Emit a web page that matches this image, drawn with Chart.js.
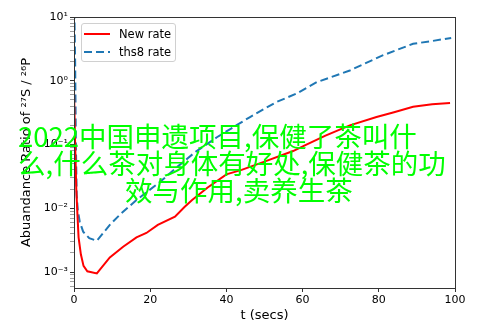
<!DOCTYPE html>
<html>
<head>
<meta charset="utf-8">
<script src="https://cdn.jsdelivr.net/npm/chart.js@4/dist/chart.umd.min.js"></script>
<style>
  html, body { margin: 0; padding: 0; background: #fff; }
  #wrap { position: relative; width: 493px; height: 329px; overflow: hidden; }
  #legend { position: absolute; left: 81px; top: 23px; width: 93px; height: 37px;
    border: 1px solid #d0d0d0; border-radius: 3px; background: rgba(255,255,255,0.85);
    font-family: "DejaVu Sans", sans-serif; font-size: 11.5px; color: #000; }
  .row { position: absolute; left: 0; height: 16px; display: flex; align-items: center; }
  .row svg { margin-left: 2px; }
  .row span { margin-left: 9px; }
  #mark { position: absolute; left: 18px; top: 122px; font-family: "Noto Sans CJK SC", sans-serif;
    font-size: 27.5px; line-height: 27px; color: #00ff00; white-space: nowrap; }
</style>
</head>
<body>
<div id="wrap">
  <canvas id="c" width="493" height="329"></canvas>
  <div id="legend"></div>
  <div id="mark">
    <div>2022中国申遗项目,保健了茶叫什</div>
    <div>么,什么茶对身体有好处,保健茶的功</div>
    <div style="padding-left:107px">效与作用,卖养生茶</div>
  </div>
</div>
<script>
// ---- data ----
const seriesNames = ["New rate", "ths8 rate"];
const newRateT = [0, 0.3, 0.6, 0.9, 1.2, 1.8, 2.5, 3.5, 6, 9.4, 12.9, 16.4, 19, 22, 26.5, 29, 31, 35, 40, 44, 50, 57.5, 61, 66, 72.4, 79.4, 84, 89, 94, 98.7];
const newRateY = [0.7, 0.1, 0.02, 0.008, 0.0035, 0.0019, 0.00125, 0.00103, 0.00095, 0.0017, 0.0025, 0.0035, 0.0041, 0.0055, 0.0074, 0.0105, 0.0135, 0.021, 0.034, 0.040, 0.054, 0.079, 0.10, 0.138, 0.2, 0.27, 0.32, 0.39, 0.43, 0.45];
const ths8T = [0, 0.3, 0.5, 0.7, 1, 1.5, 2.4, 4, 6, 9.4, 12, 16.4, 22.6, 27, 31.8, 37.5, 46.2, 53, 58.4, 63.7, 72.4, 81, 89, 94, 99];
const ths8Y = [30, 2, 0.1, 0.016, 0.0093, 0.0062, 0.0043, 0.0034, 0.0031, 0.0055, 0.0079, 0.0135, 0.026, 0.044, 0.076, 0.13, 0.27, 0.46, 0.63, 0.95, 1.45, 2.5, 3.8, 4.2, 4.7];
const xTicks = [0, 20, 40, 60, 80, 100];
const yDecades = [-3, -2, -1, 0, 1];
const xTitle = "t (secs)";
const yTitle = "Abuandance Ratio of ²⁷S / ²⁶P";

const colors = ["#ff0000", "#1f77b4"];
const dashes = [[], [8, 4]];

const sup = {"-": "⁻", "0": "⁰", "1": "¹", "2": "²", "3": "³", "4": "⁴", "5": "⁵", "6": "⁶", "7": "⁷", "8": "⁸", "9": "⁹"};
function powLabel(e) { return "10" + String(e).split("").map(c => sup[c]).join(""); }

const yMin = Math.pow(10, -3.25), yMax = 10;

function pts(t, y) { return t.map((v, i) => ({x: v, y: y[i]})); }

const frame = {
  id: "frame",
  afterDraw(chart) {
    const {ctx, chartArea: a} = chart;
    ctx.save();
    ctx.strokeStyle = "#333";
    ctx.lineWidth = 1;
    ctx.strokeRect(Math.round(a.left) + 0.5, Math.round(a.top) + 0.5, Math.round(a.right - a.left), Math.round(a.bottom - a.top));
    ctx.restore();
  }
};

const font = {family: "'DejaVu Sans', sans-serif", size: 11};
const titleFont = {family: "'DejaVu Sans', sans-serif", size: 13};

new Chart(document.getElementById("c"), {
  type: "line",
  data: {
    datasets: [
      {label: seriesNames[0], data: pts(newRateT, newRateY), borderColor: colors[0], borderWidth: 2, borderDash: dashes[0], pointRadius: 0, tension: 0, fill: false},
      {label: seriesNames[1], data: pts(ths8T, ths8Y), borderColor: colors[1], borderWidth: 2, borderDash: dashes[1], pointRadius: 0, tension: 0, fill: false}
    ]
  },
  options: {
    responsive: false,
    animation: false,
    layout: {padding: {left: 15, top: 17, right: 38, bottom: 3}},
    plugins: {legend: {display: false}, tooltip: {enabled: false}},
    scales: {
      x: {
        type: "linear", min: 0, max: 100,
        afterBuildTicks(s) { s.ticks = xTicks.map(v => ({value: v})); },
        afterFit(s) { s.height = 38; },
        ticks: {font, color: "#000", padding: 2, maxRotation: 0, callback: v => String(v)},
        grid: {drawOnChartArea: false, drawTicks: true, tickLength: 4, tickColor: "#333"},
        border: {display: true, color: "#333"},
        title: {display: true, text: xTitle, font: titleFont, color: "#000", padding: {top: 0, bottom: 3}}
      },
      y: {
        type: "logarithmic", min: yMin, max: yMax,
        afterBuildTicks(s) {
          const t = [];
          for (let e = -4; e <= 1; e++) {
            for (let m = 1; m <= 9; m++) {
              const v = m * Math.pow(10, e);
              if (v >= yMin * 0.999 && v <= yMax * 1.001) t.push({value: v, major: m === 1});
            }
          }
          s.ticks = t;
        },
        afterFit(s) { s.width = 59; },
        ticks: {
          font, color: "#000", padding: 2, autoSkip: false,
          callback(v) {
            const e = Math.round(Math.log10(v));
            return (Math.abs(v / Math.pow(10, e) - 1) < 1e-6 && yDecades.includes(e)) ? powLabel(e) : "";
          }
        },
        grid: {
          drawOnChartArea: false, drawTicks: true, tickLength: 4,
          tickColor: c => (c.tick && c.tick.major) ? "#333" : "#777",
          tickWidth: c => (c.tick && c.tick.major) ? 1 : 0.7
        },
        border: {display: true, color: "#333"},
        title: {display: true, text: yTitle, font: titleFont, color: "#000", padding: {top: 4, bottom: 0}}
      }
    }
  },
  plugins: [frame]
});

// HTML legend built from the series
const lg = document.getElementById("legend");
seriesNames.forEach((name, i) => {
  const row = document.createElement("div");
  row.className = "row";
  row.style.top = (2 + i * 18) + "px";
  const d = dashes[i].length ? `stroke-dasharray="${dashes[i].join(",")}"` : "";
  row.innerHTML = `<svg width="26" height="6"><line x1="0" y1="3" x2="26" y2="3" stroke="${colors[i]}" stroke-width="2" ${d}/></svg><span>${name}</span>`;
  lg.appendChild(row);
});
</script>
</body>
</html>
